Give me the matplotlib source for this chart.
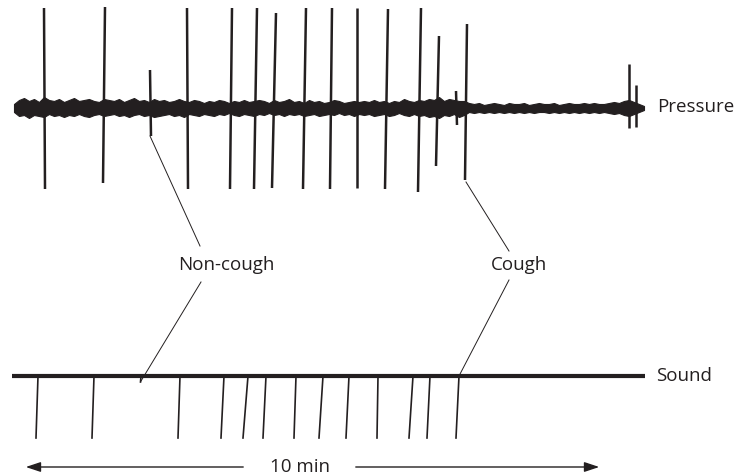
import numpy as np
import matplotlib
matplotlib.use("Agg")
import matplotlib.pyplot as plt

plt.rcParams['font.family'] = ['Open Sans', 'DejaVu Sans']
INK = "#231f20"

# --- pressure trace: spikes (x at top, top y, x at bottom, bottom y) in drawing units ---
spike_x_top = [44, 105, 150, 187, 232, 257, 276, 306, 332, 357, 388, 421, 439, 456, 467, 629, 636]
spike_top   = [8, 7, 70, 8, 8, 8, 13, 8, 8, 8, 9, 8, 36, 91, 24, 64, 85]
spike_x_bot = [45, 103, 151, 188, 230, 254, 272, 303, 330, 357, 385, 418, 436, 457, 465, 629, 636]
spike_bot   = [189, 183, 136, 189, 189, 189, 188, 189, 189, 188, 189, 192, 166, 125, 180, 128, 127]

# noise band envelope, sampled every 5 units from x=14 to x=644
band_x = np.arange(14, 645, 5)
band_upper = [104, 100, 98, 101, 99, 102, 97, 100, 101, 99,
              102, 100, 98, 101, 100, 99, 101, 102, 99, 100,
              101, 99, 102, 100, 98, 101, 100, 102, 99, 101,
              100, 102, 101, 99, 101, 102, 100, 101, 103, 101,
              102, 100, 101, 103, 101, 102, 100, 102, 101, 100,
              101, 103, 100, 102, 101, 99, 102, 101, 103, 100,
              102, 101, 103, 102, 100, 101, 103, 102, 101, 102,
              101, 102, 100, 102, 101, 103, 101, 102, 99, 101,
              102, 100, 101, 99, 100, 97, 101, 99, 100, 101,
              101,
              103, 104, 103, 105, 104, 103, 104, 105, 103, 104,
              104, 103, 105, 104, 103, 104, 104, 103, 105, 104,
              103, 104, 104, 103, 104, 103, 104, 104, 103, 102,
              103, 101, 100, 102, 104, 106]
band_lower = [112, 116, 115, 118, 115, 116, 117, 114, 116, 115,
              117, 115, 116, 114, 116, 117, 115, 114, 116, 115,
              114, 116, 115, 117, 115, 114, 116, 115, 117, 116,
              115, 114, 116, 115, 117, 114, 115, 116, 114, 115,
              116, 114, 115, 113, 115, 116, 114, 115, 116, 114,
              115, 113, 115, 114, 116, 114, 115, 114, 116, 115,
              114, 116, 115, 114, 115, 113, 115, 114, 116, 114,
              115, 114, 116, 115, 114, 116, 115, 113, 115, 116,
              114, 116, 115, 117, 116, 118, 115, 116, 114, 117,
              115,
              112, 113, 112, 113, 112, 113, 112, 113, 112, 113,
              112, 113, 112, 113, 112, 112, 113, 112, 113, 112,
              113, 112, 113, 112, 113, 112, 113, 112, 113, 114,
              113, 115, 116, 114, 112, 110]

# --- sound trace: tick marks (x at top, x at bottom) ---
sound_y = 376
sound_tick_bot = 438
sound_x_top = [38, 94, 180, 224, 248, 266, 296, 323, 349, 378, 413, 430, 459]
sound_x_bot = [36, 92, 178, 221, 243, 263, 294, 319, 346, 377, 409, 427, 456]
noncough_sound_x = 141

# leader lines: label -> pressure spike, label -> sound mark
labels = ["Non-cough", "Cough"]
label_xy = [(226, 265), (519, 265)]
leader_up = [[(150, 136), (200, 246)], [(466, 182), (509, 251)]]
leader_down = [[(201, 282), (141, 381)], [(509, 280), (459, 376)]]

fig = plt.figure(figsize=(7.46, 4.75), dpi=100)
ax = fig.add_axes([0, 0, 1, 1])
ax.set_xlim(0, 746)
ax.set_ylim(475, 0)
ax.axis("off")

# pressure band + spikes
ax.fill_between(band_x, band_upper, band_lower, color=INK, linewidth=0.8, edgecolor=INK)
for xt, yt, xb, yb in zip(spike_x_top, spike_top, spike_x_bot, spike_bot):
    ax.plot([xt, xb], [yt, yb], color=INK, lw=1.8, solid_capstyle="butt")
ax.text(657, 107, "Pressure", fontsize=13.5, color=INK, va="center", ha="left")

# sound baseline + ticks
ax.plot([12, 645], [sound_y, sound_y], color=INK, lw=3, solid_capstyle="butt")
for xt, xb in zip(sound_x_top, sound_x_bot):
    ax.plot([xt, xb], [sound_y, sound_tick_bot], color=INK, lw=1.2)
ax.plot([noncough_sound_x, noncough_sound_x - 0.5], [sound_y, sound_y + 6], color=INK, lw=1.2)
ax.text(656, sound_y, "Sound", fontsize=13.5, color=INK, va="center", ha="left")

# labels and leaders
for lab, (lx, ly), up, dn in zip(labels, label_xy, leader_up, leader_down):
    ax.text(lx, ly, lab, fontsize=13.5, color=INK, ha="center", va="center")
    ax.plot([up[0][0], up[1][0]], [up[0][1], up[1][1]], color=INK, lw=0.7)
    ax.plot([dn[0][0], dn[1][0]], [dn[0][1], dn[1][1]], color=INK, lw=0.7)

# 10 min arrow
arrow_y = 467
ax.annotate("", xy=(23, arrow_y), xytext=(246, arrow_y),
            arrowprops=dict(arrowstyle="-|>,head_length=0.9,head_width=0.3", color=INK, lw=1.0))
ax.annotate("", xy=(602, arrow_y), xytext=(353, arrow_y),
            arrowprops=dict(arrowstyle="-|>,head_length=0.9,head_width=0.3", color=INK, lw=1.0))
ax.text(300, arrow_y, "10 min", fontsize=13.5, color=INK, ha="center", va="center")

fig.savefig("out.png", dpi=100)
